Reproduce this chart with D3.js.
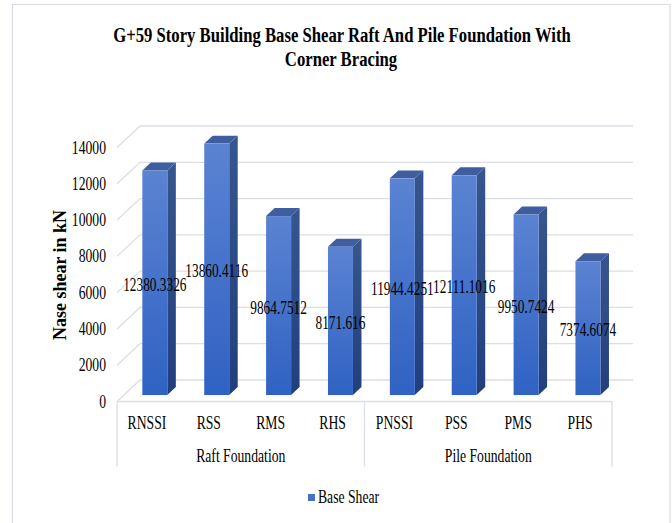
<!DOCTYPE html>
<html>
<head>
<meta charset="utf-8">
<script src="https://cdn.jsdelivr.net/npm/d3@7"></script>
<style>
  html, body { margin: 0; padding: 0; background: #fff; }
  svg { display: block; }
  text { font-family: "Liberation Serif", "Times New Roman", serif; fill: #000; }
</style>
</head>
<body>
<svg id="chart" width="672" height="523"></svg>
<script>
// Base shear per case, grouped by foundation type
const categories = ["RNSSI", "RSS", "RMS", "RHS", "PNSSI", "PSS", "PMS", "PHS"];
const groups = ["Raft Foundation", "Pile Foundation"];
const groupSizes = [4, 4];
const baseShear = [12380.3326, 13860.4116, 9864.7512, 8171.616, 11944.4251, 12111.1016, 9950.7424, 7374.6074];
const valueLabels = ["12380.3326", "13860.4116", "9864.7512", "8171.616", "11944.4251", "12111.1016", "9950.7424", "7374.6074"];
const yTicks = [0, 2000, 4000, 6000, 8000, 10000, 12000, 14000];
const seriesName = "Base Shear";
const titleLines = ["G+59 Story Building Base Shear Raft And Pile Foundation With", "Corner Bracing"];
const yTitle = "Nase shear in kN";

const svg = d3.select("#chart");

// Narrow serif text: place at (x, y) and compress horizontally by k
function narrowText(parent, xPos, yPos, k, str, anchor, size, weight) {
  return parent.append("text")
    .attr("transform", `translate(${xPos},${yPos}) scale(${k},1)`)
    .attr("text-anchor", anchor || "start")
    .attr("font-size", size || 18)
    .attr("font-weight", weight || "normal")
    .text(str);
}
const K = 0.76;

// 3D projection: front plane plus a depth offset toward the back wall
const DX = 23, DY = -21.5;
const x = d3.scaleBand().domain(categories).range([117, 612]).paddingInner(0.596).paddingOuter(0.298);
const y = d3.scaleLinear().domain([0, 14000]).range([401.5, 147.5]);
const px = (xv, d) => xv + d * DX;
const py = (yv, d) => yv + d * DY;
const backRight = 633;

const gridColor = "#dadee5";

// Outer frame
svg.append("path")
  .attr("d", "M12.5,523 V4.5 H670 V523")
  .attr("fill", "none").attr("stroke", "#d9dde3").attr("stroke-width", 1.2);

// Title: the first line sets the compression used for both lines
const probe = svg.append("text").attr("font-size", 21).attr("font-weight", "bold").text(titleLines[0]);
const tk = 458 / probe.node().getComputedTextLength();
probe.remove();
narrowText(svg, 342, 41.5, tk, titleLines[0], "middle", 21, "bold");
narrowText(svg, 341, 66, tk, titleLines[1], "middle", 21, "bold");

// Gridlines: side wall diagonal + back wall horizontal
const grid = svg.append("g").attr("fill", "none").attr("stroke", gridColor).attr("stroke-width", 1.3);
yTicks.forEach(t => {
  const yf = y(t);
  grid.append("path").attr("d",
    `M${px(117, 0)},${py(yf, 0)} L${px(117, 1)},${py(yf, 1)} L${backRight},${py(yf, 1)}`);
});

// Floor front edge and category group dividers
const floor = svg.append("g").attr("fill", "none").attr("stroke", gridColor).attr("stroke-width", 1.3);
floor.append("line").attr("x1", 117).attr("x2", 612).attr("y1", y(0)).attr("y2", y(0));
let acc = 0;
const dividers = [x.range()[0]];
groupSizes.forEach(n => { acc += n; dividers.push(x.range()[0] + acc * x.step()); });
dividers.forEach(dx => {
  floor.append("line").attr("x1", dx).attr("x2", dx).attr("y1", y(0)).attr("y2", 466.5);
});

// Y tick labels
const tickG = svg.append("g");
yTicks.forEach(t => narrowText(tickG, 106, y(t) + 6, K, String(t), "end", 18));

// Y axis title
svg.append("text")
  .attr("transform", "translate(66,275) rotate(-90)")
  .attr("text-anchor", "middle").attr("font-size", 18).attr("font-weight", "bold")
  .text(yTitle);

// Gradients for the column faces
const defs = svg.append("defs");
const gFront = defs.append("linearGradient").attr("id", "front").attr("x1", 0).attr("y1", 0).attr("x2", 0).attr("y2", 1);
gFront.append("stop").attr("offset", 0).attr("stop-color", "#5b83d2");
gFront.append("stop").attr("offset", 1).attr("stop-color", "#2f62c3");
const gSide = defs.append("linearGradient").attr("id", "side").attr("x1", 0).attr("y1", 0).attr("x2", 0).attr("y2", 1);
gSide.append("stop").attr("offset", 0).attr("stop-color", "#37568f");
gSide.append("stop").attr("offset", 1).attr("stop-color", "#213f7c");

// 3D columns: depth runs from d0 (front face) to d1 (back face)
const d0 = 0.30, d1 = 0.67;
const bars = svg.append("g");
categories.forEach((c, i) => {
  const v = baseShear[i];
  const xl = x(c), xr = x(c) + x.bandwidth();
  const yt = y(v), yb = y(0);
  const g = bars.append("g");
  // side face
  g.append("path").attr("fill", "url(#side)").attr("d",
    `M${px(xr, d0)},${py(yt, d0)} L${px(xr, d1)},${py(yt, d1)} L${px(xr, d1)},${py(yb, d1)} L${px(xr, d0)},${py(yb, d0)} Z`);
  // top face
  g.append("path").attr("fill", "#3f5e9f").attr("d",
    `M${px(xl, d0)},${py(yt, d0)} L${px(xr, d0)},${py(yt, d0)} L${px(xr, d1)},${py(yt, d1)} L${px(xl, d1)},${py(yt, d1)} Z`);
  // front face
  g.append("rect").attr("fill", "url(#front)")
    .attr("x", px(xl, d0)).attr("y", py(yt, d0))
    .attr("width", x.bandwidth()).attr("height", yb - yt);
});

// Value labels centred on each column
const valG = svg.append("g");
categories.forEach((c, i) => {
  narrowText(valG,
    px(x(c) + x.bandwidth() / 2, d0),
    py((y(baseShear[i]) + y(0)) / 2, d0) + 8,
    0.74, valueLabels[i], "middle", 18);
});

// Category labels
const catG = svg.append("g");
categories.forEach(c => narrowText(catG, x(c) + x.bandwidth() / 2 - 1, 429, K, c, "middle", 18));

// Group labels
acc = 0;
groups.forEach((gname, gi) => {
  const start = x.range()[0] + acc * x.step();
  acc += groupSizes[gi];
  const end = x.range()[0] + acc * x.step();
  narrowText(svg, (start + end) / 2, 462, K, gname, "middle", 18);
});

// Legend
svg.append("rect").attr("x", 308).attr("y", 494).attr("width", 7).attr("height", 7).attr("fill", "#4472c4");
narrowText(svg, 318, 503, K, seriesName, "start", 18);
</script>
</body>
</html>
